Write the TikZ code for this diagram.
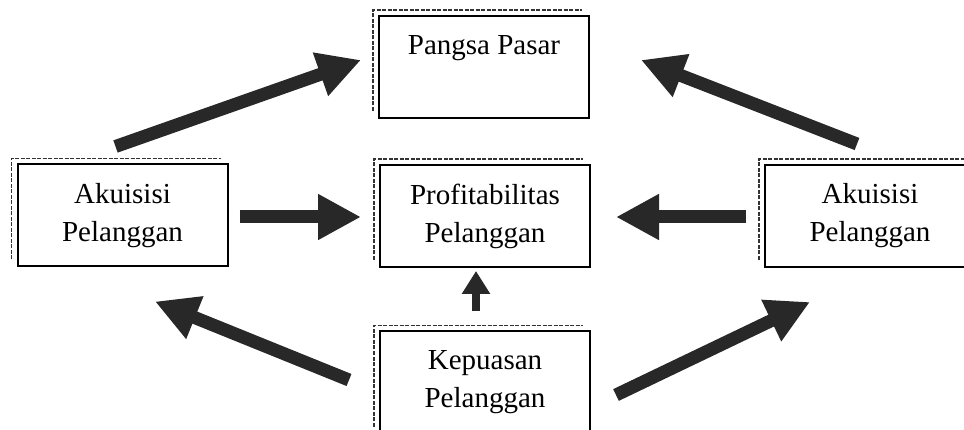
\documentclass[tikz,border=0pt]{standalone}
\usepackage{fontspec}
\setmainfont{Liberation Serif}
\usepackage{tikz}
\usetikzlibrary{arrows.meta,positioning,calc}

\definecolor{panahgelap}{RGB}{40,40,40}

\begin{document}
\begin{tikzpicture}[x=1pt, y=-1pt,
        kotak/.style={draw, line width=2pt, minimum width=210pt, minimum height=102pt,
            inner sep=0pt, align=center, font=\fontsize{29}{38}\selectfont},
        bingkai/.style={draw=black!80, line width=1.4pt, dash pattern=on 4pt off 1.5pt},
        panah/.style={draw=panahgelap, line width=13pt, -{Triangle[length=43pt, width=43pt]}},
        panahkecil/.style={draw=panahgelap, line width=8pt, -{Triangle[length=23pt, width=27pt]}}]
            \useasboundingbox (0,0) rectangle (964,430);

            % kotak
            \node[kotak] (pangsa) at (484,67) {Pangsa Pasar\\\phantom{Pelanggan}};
            \node[kotak] (akuL) at (122.5,215.5) {Akuisisi\\Pelanggan};
            \node[kotak] (profit) at (485,216) {Profitabilitas\\Pelanggan};
            \node[kotak] (akuR) at (870,216) {Akuisisi\\Pelanggan};
            \node[kotak] (kepuasan) at (485,382.5) {Kepuasan\\Pelanggan};

            % bingkai luar
            \foreach \n in {pangsa,akuL,profit,akuR,kepuasan}
                \draw[bingkai] ([shift={(-5,-8)}]\n.south west) |- ([shift={(-8,-5)}]\n.north east);

            % panah
            \draw[panah] ([shift={(-7,-17)}]akuL.north) -- ([shift={(-17,-7)}]pangsa.west);
            \draw[panah] ([shift={(-13,-20)}]akuR.north) -- ([shift={(51,-7)}]pangsa.east);
            \draw[panah] ([shift={(11,1.5)}]akuL.east) -- ([shift={(-18,1)}]profit.west);
            \draw[panah] ([shift={(-18,1)}]akuR.west) -- ([shift={(25,1)}]profit.east);
            \draw[panahkecil] ([shift={(-9,-19)}]kepuasan.north) -- ([shift={(-9,3)}]profit.south);
            \draw[panah] ([shift={(-30,-2.5)}]kepuasan.west) -- ([shift={(32.5,34)}]akuL.south);
            \draw[panah] ([shift={(25,12.5)}]kepuasan.east) -- ([shift={(-60,34)}]akuR.south);
        \end{tikzpicture}
\end{document}
